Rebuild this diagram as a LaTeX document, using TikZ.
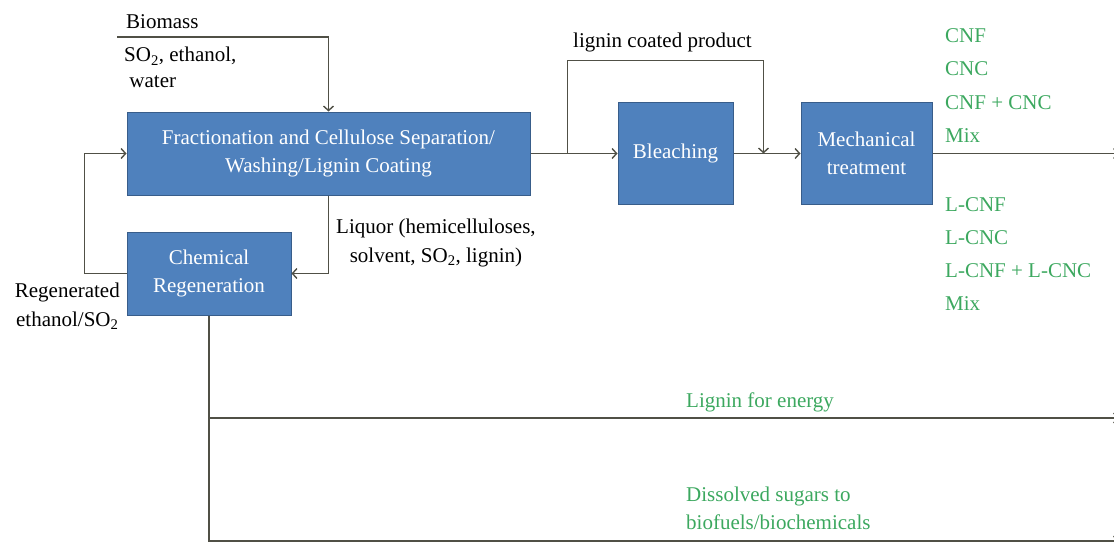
\documentclass[tikz,border=0pt]{standalone}
\usepackage{fontspec}
\setmainfont{Liberation Serif}
\usetikzlibrary{arrows.meta,positioning}

\definecolor{unitblue}{RGB}{79,129,189}
\definecolor{unitedge}{RGB}{56,93,138}
\definecolor{flowgray}{RGB}{80,80,70}
\definecolor{prodgreen}{RGB}{60,168,95}

\begin{document}
\begin{tikzpicture}[x=1pt,y=-1pt,>={Straight Barb[length=4.5pt,width=10pt]},auto,node distance=36pt,
    unit/.style={draw=unitedge,line width=1pt,fill=unitblue,text=white,align=center,
                 font=\fontsize{21}{28}\selectfont,inner sep=0pt},
    flow/.style={draw=flowgray,line width=1.4pt},
    note/.style={font=\fontsize{21}{28}\selectfont,inner sep=0pt,align=left},
    product/.style={note,text=prodgreen,anchor=base west}]

                \useasboundingbox (0,0) rectangle (1114,543);

                \node[unit,minimum width=403pt,minimum height=83pt] (frac) at (328.5,153.5)
                    {Fractionation and Cellulose Separation/\\Washing/Lignin Coating};

                \node[unit,minimum width=115pt,minimum height=102pt] (bleach) [right=87pt of frac] {Bleaching};

                \node[unit,minimum width=131pt,minimum height=102pt] (mech) [right=67pt of bleach] {Mechanical\\treatment};

                \node[unit,minimum width=164pt,minimum height=83pt,anchor=north west] (chem)
                    [below=36pt of frac.south west,anchor=north west] {Chemical\\Regeneration};

                

                \coordinate (biomass) at (117,37);

                \coordinate[right=37pt of frac.east] (split);

                \coordinate[right=30pt of bleach.east] (join);

                \coordinate (nanoout) at (1119,153.5);

                \coordinate (energyout) at (1119,418);

                \coordinate (sugarout) at (1119,541);

                

                \draw[flow,->] (biomass) -| (frac.north);

                \draw[flow,->] (frac) -- (bleach);

                \draw[flow,->] (bleach) -- (mech);

                \draw[flow,->] (mech) -- (nanoout);

                \draw[flow,->] (split) -- ++(0,-93) -| (join);

                \draw[flow,->] (frac.south) |- (chem.east);

                \draw[flow,->] (chem.west) -- ++(-42,0) |- (frac.west);

                \draw[flow,->] (chem.south) |- (energyout);

                \draw[flow,->] (chem.south) |- (sugarout);

                

                \node[note,anchor=base west] (biomasslbl) at (126,29) {Biomass};

                \node[note,anchor=base west,font=\fontsize{21}{26}\selectfont] (solventlbl) at (124,88)
                    {SO\textsubscript{2}, ethanol,\\\ water};

                \node[note,anchor=base west] (coatlbl) at (573,48) {lignin coated product};

                \node[note,anchor=base west,align=center,font=\fontsize{21}{29}\selectfont] (liquorlbl) at (336,262)
                    {Liquor (hemicelluloses,\\solvent, SO\textsubscript{2}, lignin)};

                \node[note,anchor=base east,align=center,font=\fontsize{21}{29}\selectfont] (regenlbl) at (120,326)
                    {Regenerated\\ethanol/SO\textsubscript{2}};

                \node[product] (energylbl) at (686,407) {Lignin for energy};

                \node[product] (sugarlbl) at (686,529)
                    {Dissolved sugars to\\biofuels/biochemicals};

                

                \foreach \prod [count=\i] in {CNF, CNC, CNF + CNC, Mix} {

                    \node[product] (cn\i) at (945,43+33*\i-33) {\prod};

                }

                

                \foreach \prod [count=\i] in {L-CNF, L-CNC, L-CNF + L-CNC, Mix} {

                    \node[product] (lcn\i) at (945,211+33*\i-33) {\prod};

                }

            \end{tikzpicture}
\end{document}
